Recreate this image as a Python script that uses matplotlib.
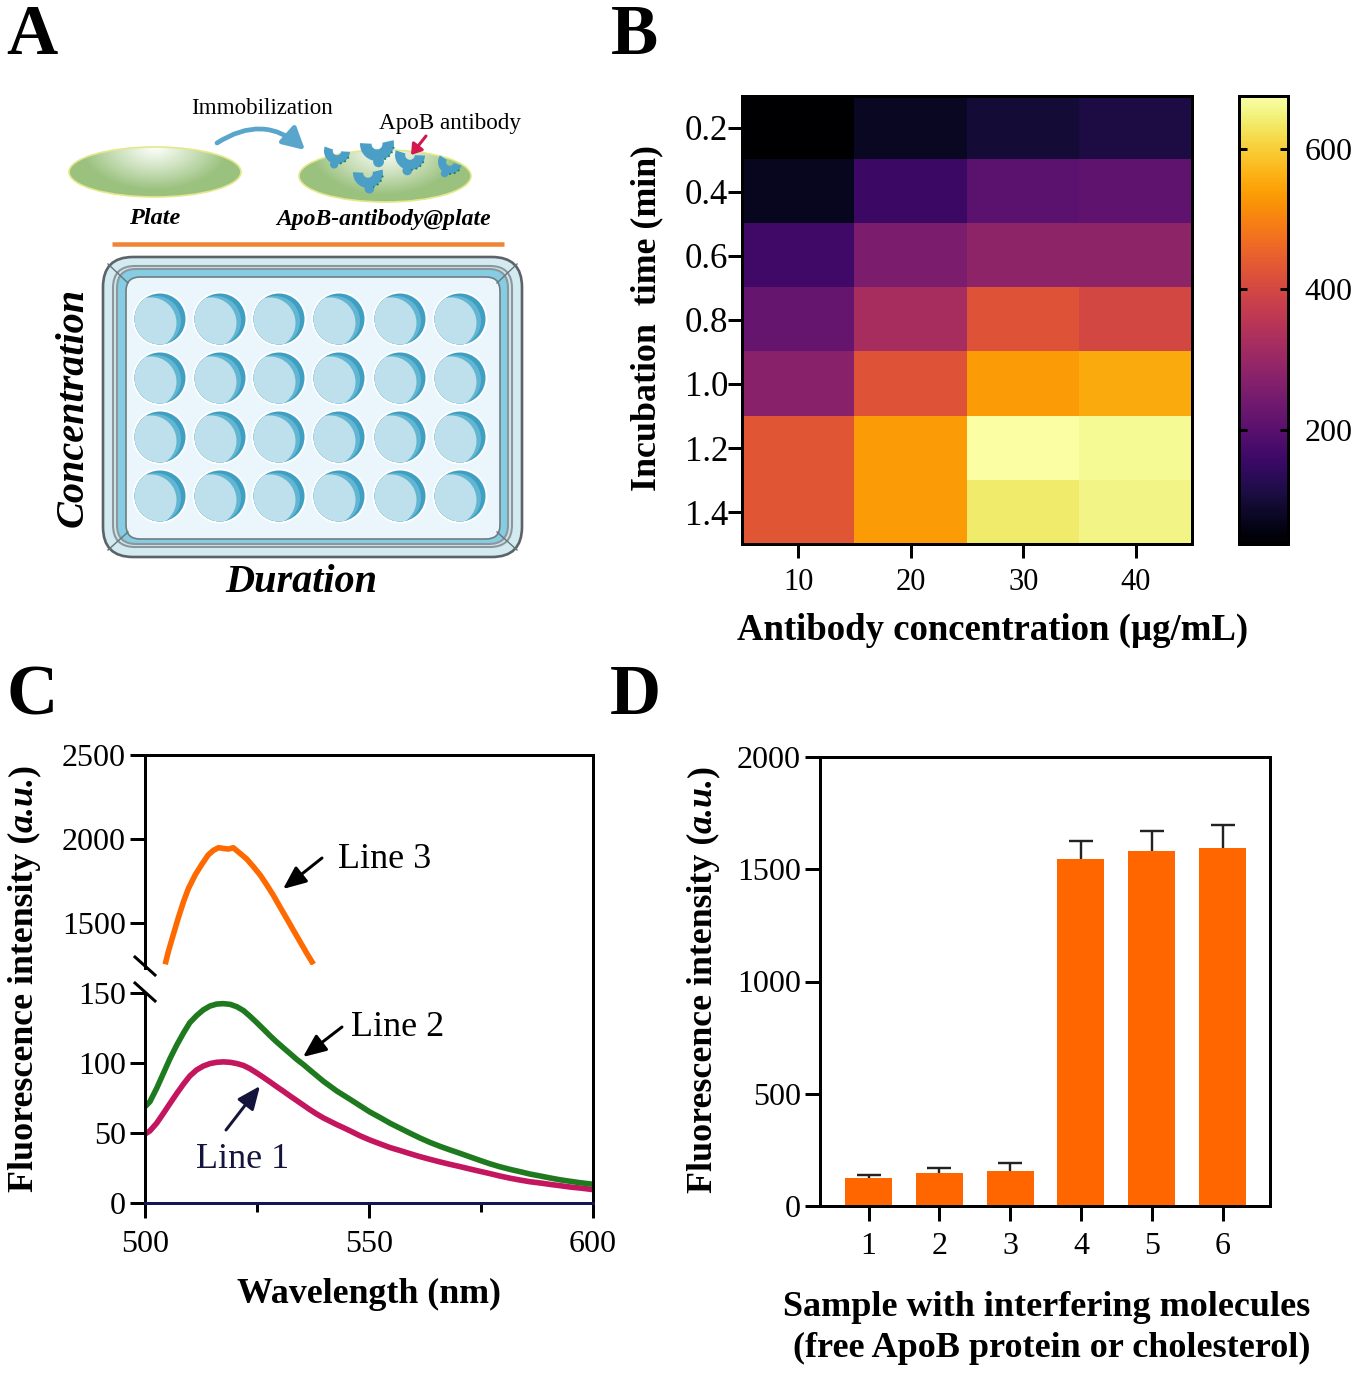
import numpy as np
import matplotlib
matplotlib.use("Agg")
import matplotlib.pyplot as plt
from matplotlib.patches import Arc, Circle, Ellipse, FancyBboxPatch, FancyArrowPatch, Wedge

# ---------- data ----------
conc = [10, 20, 30, 40]
times = ["0.2", "0.4", "0.6", "0.8", "1.0", "1.2", "1.4"]
heat_02 = [40, 80, 100, 112]
heat_04 = [75, 155, 205, 210]
heat_06 = [165, 255, 285, 285]
heat_08 = [220, 325, 425, 400]
heat_10 = [275, 425, 535, 555]
heat_12 = [430, 535, 675, 665]
heat_14 = [430, 535, 640, 655]

wl = [500, 501.1, 502.6, 504.1, 505.6, 507.1, 508.6, 510, 511.5, 513, 514.5, 516, 517.5, 519, 520.5, 522,
      523.4, 524.9, 526.4, 527.9, 529.4, 530.9, 532.4, 533.9, 535.4, 536.8, 538.3, 539.8, 541.3, 542.8, 544.3,
      545.8, 548, 550.2, 552.5, 554.7, 557, 559.2, 561.4, 563.6, 565.9, 568.1, 570.3, 572.5, 574.8, 577, 579.2,
      581.5, 583.7, 585.9, 588.2, 590.4, 592.6, 594.9, 597.1, 600]
line1 = [49.3, 51.5, 57, 64, 71.2, 78.3, 85, 90.7, 95, 97.8, 99.6, 100.5, 100.8, 100.5, 99.6, 98.2,
         96, 93, 89.8, 86.5, 83.1, 79.8, 76.4, 73.1, 69.8, 66.7, 63.6, 60.8, 58.4, 56, 53.8,
         51.5, 48, 45, 42.2, 39.6, 37.4, 35.2, 33.1, 31.2, 29.3, 27.6, 26, 24.3, 22.6, 21, 19.3,
         17.7, 16.4, 15.2, 14.3, 13.3, 12.4, 11.4, 10.7, 9.6]
line2 = [68.8, 72.4, 81.9, 92.6, 103.3, 112.9, 121.5, 128.8, 133.8, 137.9, 140.7, 142.1, 142.4, 141.9, 140.2, 137.4,
         133.5, 129, 124.3, 119.5, 115, 110.8, 106.7, 102.5, 98.8, 95, 91, 87, 83.5, 80, 77,
         74, 69.5, 65, 61, 57, 53.3, 49.8, 46.4, 43.3, 40.4, 37.9, 35.5, 33, 30.4, 28, 25.9,
         24, 22.4, 20.7, 19.3, 17.9, 16.6, 15.5, 14.5, 13.4]
wl3 = [504.5, 505.2, 506.3, 507.4, 508.6, 509.7, 511.2, 512.7, 514.1, 515.3, 516.4, 517.5, 518.6, 519.7, 521.2,
       522.7, 524.2, 525.7, 527.2, 528.6, 530.1, 531.6, 533.1, 534.6, 536.1, 537.6]
line3 = [1254, 1329, 1429, 1528, 1627, 1706, 1786, 1850, 1905, 1933, 1948, 1944, 1940, 1948, 1915,
         1881, 1835, 1786, 1726, 1667, 1597, 1528, 1458, 1389, 1320, 1254]
line0_x = [500, 600]
line0_y = [0, 0]

samples = [1, 2, 3, 4, 5, 6]
means = [125, 145, 155, 1545, 1580, 1595]
errs = [12, 25, 38, 80, 90, 100]

# ---------- set-up ----------
W, H = 1359, 1373
plt.rcParams.update({"font.family": ["Liberation Serif", "DejaVu Serif"]})
fig = plt.figure(figsize=(W / 100, H / 100), dpi=100)
PX = 0.72  # points per pixel


def axpx(x0, y0, x1, y1, **kw):
    return fig.add_axes([x0 / W, 1 - y1 / H, (x1 - x0) / W, (y1 - y0) / H], **kw)


ov = fig.add_axes([0, 0, 1, 1], zorder=10)
ov.set_xlim(0, W)
ov.set_ylim(H, 0)
ov.axis("off")
ov.patch.set_alpha(0)


def txt(x, y, s, size, **kw):
    kw.setdefault("ha", "center")
    kw.setdefault("va", "center")
    return ov.text(x, y, s, fontsize=size, **kw)


def vlabel(x, yc, size):
    """Rotated label with a bold-italic middle part, laid out from measured lengths."""
    pieces = [("Fluorescence intensity (", "normal"), ("a.u.", "italic"), (")", "normal")]
    rend = fig.canvas.get_renderer()
    items = [txt(x, yc, s, size, fontweight="bold", fontstyle=st, rotation=90, va="bottom") for s, st in pieces]
    lens = [t.get_window_extent(rend).height for t in items]
    y = yc + sum(lens) / 2
    for t, ln in zip(items, lens):
        t.set_position((x, y))
        y -= ln


TICK = 23

# panel letters
for (x, y, s) in [(32, 36, "A"), (634, 36, "B"), (32, 697, "C"), (635, 697, "D")]:
    txt(x, y, s, 51, fontweight="bold")

# ---------- panel A (schematic) ----------
def gradient_plate(cx, cy, rx, ry):
    yy, xx = np.mgrid[-1:1:120j, -1:1:240j]
    d = np.sqrt((xx / 0.85) ** 2 + ((yy + 1.0) / 1.7) ** 2)
    t = np.clip(d, 0, 1)
    c0 = np.array([0.99, 1.0, 0.98])
    c1 = np.array([0.61, 0.76, 0.50])
    img = c0 + (c1 - c0) * t[..., None] ** 1.1
    im = ov.imshow(img, extent=(cx - rx, cx + rx, cy + ry, cy - ry), aspect="auto", zorder=1)
    e = Ellipse((cx, cy), 2 * rx, 2 * ry, fc="none", ec="#e4e88a", lw=1.2, zorder=2)
    ov.add_patch(e)
    im.set_clip_path(e)


gradient_plate(155, 172, 86, 25)
gradient_plate(385, 176, 86, 26)
ov.set_xlim(0, W)
ov.set_ylim(H, 0)


def antibody(x, y, r, rot):
    ov.add_patch(Wedge((x, y), r, -8 + rot, 188 + rot, width=r * 0.68, fc="#4b9fc6", ec="none", zorder=3))
    a = np.deg2rad(90 + rot)
    sx, sy = x + np.cos(a) * r * 1.05, y + np.sin(a) * r * 1.05
    ov.add_patch(Circle((sx, sy), r * 0.32, fc="#4b9fc6", ec="none", zorder=3))
    ov.add_patch(Arc((x, y), 2 * r, 2 * r, theta1=15 + rot, theta2=75 + rot, color="#1d7f5c", lw=1.3, ls=":", zorder=3.1))


for (x, y, r, rot) in [(337, 151, 13, 12), (377, 144, 17, -5), (410, 155, 15, 10), (368, 173, 15, -5), (450, 162, 12, 25)]:
    antibody(x, y, r, rot)

ov.add_patch(FancyArrowPatch((217, 143), (305, 150), connectionstyle="arc3,rad=-0.38",
                             arrowstyle="-|>,head_length=13,head_width=7", color="#5aa5cc", lw=3.4, zorder=4,
                             shrinkA=0, shrinkB=0))
ov.add_patch(FancyArrowPatch((426, 136), (411, 155), arrowstyle="-|>,head_length=6,head_width=4",
                             color="#d3174f", lw=2.2, zorder=4, shrinkA=0, shrinkB=0))
txt(262, 109, "Immobilization", 16.6)
txt(450, 123, "ApoB antibody", 16.7)
txt(155, 219, "Plate", 17.5, fontweight="bold", fontstyle="italic")
txt(384, 219, "ApoB-antibody@plate", 17, fontweight="bold", fontstyle="italic")
txt(73, 407, "Concentration", 29, fontweight="bold", fontstyle="italic", rotation=90)
txt(301, 583, "Duration", 29, fontweight="bold", fontstyle="italic")
ov.plot([112, 504], [244, 244], color="#ee8434", lw=4.5 * PX, solid_capstyle="butt", zorder=2)


def rrect(x0, y0, x1, y1, r, fc, ec, lw, z):
    ov.add_patch(FancyBboxPatch((x0 + r, y0 + r), x1 - x0 - 2 * r, y1 - y0 - 2 * r,
                                boxstyle=f"round,pad={r},rounding_size={r}", fc=fc, ec=ec, lw=lw, zorder=z))


rrect(103, 257, 522, 557, 30, "#d3eaf0", "#5b6369", 1.9, 2)
rrect(113, 266, 512, 547, 22, "#cfe6ec", "#8c979c", 1.5, 2.1)
rrect(117, 269, 508, 544, 19, "#86cde3", "#8c979c", 1.5, 2.15)
rrect(126, 277, 500, 539, 14, "#eaf6fb", "#6f7c82", 1.2, 2.2)
for (a, b, c, d) in [(108, 264, 128, 283), (517, 264, 497, 283), (108, 550, 128, 532), (517, 550, 497, 532)]:
    ov.plot([a, c], [b, d], color="#66757c", lw=1.0, zorder=2.3)

for wy in [319, 378, 437, 496]:
    for wx in [160, 220, 279, 339, 400, 460]:
        ov.add_patch(Circle((wx, wy), 27.5, fc="white", ec="none", zorder=3))
        rim = Circle((wx, wy), 25.5, fc="#3f9fc2", ec="none", zorder=3.1)
        ov.add_patch(rim)
        mid = Circle((wx - 4, wy + 2), 25, fc="#62b6d2", ec="none", zorder=3.15)
        ov.add_patch(mid)
        mid.set_clip_path(rim)
        inner = Circle((wx - 9, wy + 4), 25.5, fc="#bde0ec", ec="none", zorder=3.2)
        ov.add_patch(inner)
        inner.set_clip_path(rim)

# ---------- panel B ----------
heat = np.array([heat_02, heat_04, heat_06, heat_08, heat_10, heat_12, heat_14])
axb = axpx(742, 96, 1192, 544)
mesh = axb.imshow(heat, cmap="inferno", vmin=38, vmax=675, aspect="auto",
                  extent=(5, 45, 7.5, 0.5), interpolation="nearest")
axb.set_xticks(conc)
axb.set_xticklabels([str(c) for c in conc])
axb.set_yticks(range(1, 8))
axb.set_yticklabels(times)
axb.tick_params(axis="both", width=3 * PX, length=14 * PX)
axb.tick_params(axis="y", pad=0, labelsize=25)
axb.tick_params(axis="x", pad=7.5, labelsize=22)
for s in axb.spines.values():
    s.set_linewidth(3 * PX)
axb.set_xlabel("Antibody concentration (µg/mL)", fontsize=26.5, fontweight="bold", va="center", ha="center")
axb.xaxis.set_label_coords(993, 630, transform=ov.transData)
axb.set_ylabel("Incubation  time (min)", fontsize=25.8, fontweight="bold", va="center", ha="center")
axb.yaxis.set_label_coords(647, 318, transform=ov.transData)

cax = axpx(1239, 96, 1288, 544)
cb = fig.colorbar(mesh, cax=cax, ticks=[200, 400, 600])
cb.outline.set_linewidth(3 * PX)
cax.tick_params(which="major", direction="in", left=True, right=True, length=8 * PX, width=3 * PX,
                labelsize=TICK, pad=12, color="black")

# ---------- panel C ----------
axu = axpx(145, 755, 593, 965)
axl = axpx(145, 993, 593, 1203)
LW = 5.6 * PX
axu.plot(wl3, line3, color="#ff6a00", lw=LW, solid_capstyle="butt")
axu.set_xlim(500, 600)
axu.set_ylim(1250, 2500)
axu.set_yticks([1500, 2000, 2500])
axu.set_xticks([])
axu.spines["bottom"].set_visible(False)

axl.plot(wl, line1, color="#c4155f", lw=LW, solid_capstyle="butt")
axl.plot(wl, line2, color="#1f7a1f", lw=LW, solid_capstyle="butt")
axl.plot(line0_x, line0_y, color="#14145a", lw=3 * PX, zorder=5, clip_on=False)
axl.set_xlim(500, 600)
axl.set_ylim(0, 150)
axl.set_yticks([0, 50, 100, 150])
axl.set_xticks([500, 550, 600])
axl.set_xticks([525, 575], minor=True)
axl.spines["top"].set_visible(False)
axl.tick_params(axis="x", which="minor", length=9 * PX, width=3 * PX)
for a in (axu, axl):
    a.tick_params(axis="both", which="major", labelsize=TICK, width=3 * PX, length=15 * PX, pad=3)
    for s in a.spines.values():
        s.set_linewidth(3 * PX)
axl.tick_params(axis="x", which="major", pad=8.5)
ov.plot([593, 593], [965, 993], color="black", lw=3 * PX, zorder=1)
ov.plot([145, 145], [965, 968], color="black", lw=3 * PX)
ov.plot([135, 155], [957, 975], color="black", lw=3 * PX)
ov.plot([135, 155], [983, 1001], color="black", lw=3 * PX)

axl.set_xlabel("Wavelength (nm)", fontsize=25.8, fontweight="bold", va="center", ha="center")
axl.xaxis.set_label_coords(369, 1294, transform=ov.transData)
vlabel(24, 978, 25.8)

for (s, x, y, c, p0, p1) in [("Line 3", 385, 859, "black", (322, 858), (283, 889)),
                             ("Line 2", 398, 1027, "black", (342, 1027), (303, 1057)),
                             ("Line 1", 243, 1159, "#14143c", (226, 1130), (260, 1086))]:
    txt(x, y, s, 26, color=c)
    ov.add_patch(FancyArrowPatch(p0, p1, arrowstyle="-|>,head_length=14,head_width=6", color=c, lw=3 * PX,
                                 shrinkA=0, shrinkB=0, zorder=6))

# ---------- panel D ----------
axd = axpx(820, 757, 1270, 1206)
axd.bar(samples, means, width=0.664, color="#ff6600", zorder=2)
eb = axd.errorbar(samples, means, yerr=[[0] * 6, errs], fmt="none", ecolor="#222222", elinewidth=2.4 * PX,
                  capsize=12 * PX, capthick=2.4 * PX, zorder=1)
eb[1][0].set_visible(False)
axd.set_xlim(0.315, 6.67)
axd.set_ylim(0, 2000)
axd.set_yticks([0, 500, 1000, 1500, 2000])
axd.set_xticks(samples)
axd.tick_params(axis="both", labelsize=TICK, width=3 * PX, length=15 * PX, pad=3)
axd.tick_params(axis="x", pad=8)
for s in axd.spines.values():
    s.set_linewidth(3 * PX)
vlabel(703, 979, 25.8)
axd.set_xlabel("Sample with interfering molecules\n (free ApoB protein or cholesterol)", fontsize=26,
               fontweight="bold", va="center", ha="center", linespacing=1.33)
axd.xaxis.set_label_coords(1047, 1328, transform=ov.transData)

fig.savefig("out.png", dpi=100)
